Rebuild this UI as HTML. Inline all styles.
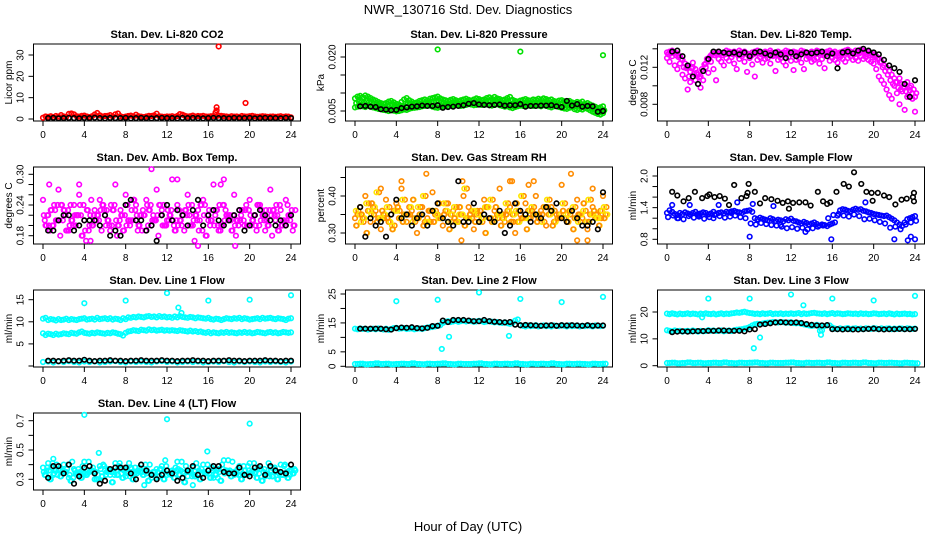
<!DOCTYPE html>
<html><head><meta charset="utf-8"><style>
html,body{margin:0;padding:0;background:#fff}
svg{display:block}
text{font-family:"Liberation Sans",Arial,sans-serif}
</style></head><body>
<svg id="chart" width="936" height="540" viewBox="0 0 936 540" xmlns="http://www.w3.org/2000/svg">
<text x="468" y="14" font-size="13" text-anchor="middle">NWR_130716  Std. Dev. Diagnostics</text>
<text x="468" y="531" font-size="13" text-anchor="middle">Hour of Day (UTC)</text>
</svg>
<script>
// x ticks
const hourTicks = [0,4,8,12,16,20,24];

// Panel 1: CO2
const co2Red = [0.6,1.2,1.0,1.3,0.9,1.4,1.1,1.8,1.2,1.0,2.4,2.6,2.2,1.3,1.1,1.5,1.6,1.2,0.9,1.3,2.1,2.8,1.7,1.2,1.4,
1.5,1.8,1.2,2.2,2.6,1.3,0.9,1.1,1.4,1.6,1.2,2.0,1.3,1.1,0.9,1.2,1.5,1.4,1.7,2.5,1.3,1.1,1.0,1.2,
1.1,1.3,1.0,1.4,2.3,2.0,1.5,1.2,1.3,1.6,1.2,1.4,1.3,1.5,1.2,1.1,1.3,1.4,1.2,1.6,1.5,1.3,1.2,1.0,
1.3,1.1,1.2,1.0,1.4,1.2,1.1,1.3,1.5,1.2,1.0,1.1,1.3,1.2,1.0,1.1,1.2,1.0,1.1,1.3,1.0,1.2,1.1,0.8];
const co2OutHours = [16.7,16.8,16.8,17.0,19.6];
const co2OutVals = [3,4,5.5,34,7.5];
const co2Black = [0.4,0.5,0.3,0.4,0.5,0.4,0.3,0.5,0.4,0.6,0.4,0.3,0.5,0.4,0.4,0.5,0.3,0.4,0.5,0.4,0.3,0.4,0.5,0.4,0.4,0.3,0.5,0.4,0.5,0.4,0.3,0.4,0.5,0.4,0.4,0.3,0.5,0.4,0.4,0.5,0.3,0.4,0.5,0.4,0.4,0.3,0.5,0.4];

// Panel 2: pressure (x1e-3)
const presA = [8.5,9.0,9.2,8.8,9.3,9.0,8.6,8.2,7.9,7.5,7.2,7.0,7.2,7.6,7.8,7.4,7.0,6.8,7.5,8.2,8.6,8.0,7.6,7.2,7.4,
7.8,8.0,8.2,7.9,8.4,8.6,8.8,9.0,8.5,8.2,8.0,7.8,8.1,8.3,8.0,7.7,8.0,8.2,8.4,8.1,7.9,8.2,8.5,8.3,
8.0,8.2,8.6,8.8,8.4,8.9,8.5,8.3,8.0,8.2,8.6,8.9,8.1,7.8,7.6,7.9,8.1,8.3,8.0,7.9,8.2,8.1,8.4,8.2,
8.5,8.3,8.0,8.2,7.8,7.6,7.9,8.0,7.7,7.5,7.8,7.4,7.2,7.5,7.3,7.6,7.0,7.2,6.8,6.5,6.2,5.8,6.0,6.3];
const presB = [6.0,6.2,6.4,6.3,6.1,6.5,6.2,6.0,5.8,5.6,5.5,5.3,5.2,5.0,5.3,5.1,4.9,5.0,5.2,5.4,5.3,5.6,5.8,5.9,6.0,
6.1,6.3,6.4,6.6,6.5,6.2,6.0,5.9,6.1,6.3,6.4,6.2,6.5,6.6,6.8,6.7,6.4,6.5,6.7,6.9,6.8,6.6,6.7,6.8,
6.7,6.9,6.8,6.6,6.5,6.7,6.9,6.6,6.4,6.2,6.3,6.0,5.8,6.1,6.3,6.5,6.4,6.6,6.5,6.7,6.4,6.6,6.5,6.3,
6.6,6.4,6.2,6.0,6.3,6.5,6.1,5.9,5.7,5.6,5.9,6.0,5.5,5.3,5.6,5.4,5.8,5.6,5.2,4.8,4.5,4.2,4.0,4.4];
const presC = [7.2,7.6,7.8,7.4,7.7,7.5,7.3,7.0,6.8,6.6,6.4,6.2,6.4,6.6,6.8,6.5,6.2,6.0,6.5,7.0,7.2,6.9,6.7,6.5,6.8,
7.0,7.1,7.3,7.0,7.4,7.5,7.6,7.7,7.4,7.2,7.1,7.0,7.3,7.4,7.2,7.0,7.2,7.4,7.5,7.3,7.1,7.4,7.6,7.5,
7.3,7.5,7.7,7.8,7.5,7.9,7.6,7.4,7.2,7.3,7.6,7.8,7.2,7.0,6.8,7.0,7.2,7.4,7.2,7.1,7.3,7.2,7.5,7.3,
7.5,7.4,7.1,7.3,7.0,6.8,7.0,7.1,6.9,6.7,6.9,6.6,6.4,6.7,6.5,6.8,6.3,6.4,6.0,5.7,5.5,5.0,4.8,5.2];
const presBlack = [6.3,6.4,6.2,6.1,5.5,5.4,5.2,5.3,5.8,6.0,6.2,6.3,6.5,6.4,6.4,6.6,5.9,6.1,6.2,6.4,6.6,7.0,7.2,6.8,6.7,6.6,6.7,6.8,6.5,6.6,6.6,6.9,6.2,6.4,6.4,6.5,6.5,6.6,6.3,6.1,7.8,6.5,6.9,6.2,6.4,6.3,4.8,5.0];
const presOutHours = [8,16,24];
const presOutVals = [22.1,21.5,20.5];

// Panel 3: Li-820 temp (x1e-3)
const tempA = [13.6,13.7,13.8,13.6,13.5,13.2,12.8,12.4,12.0,11.5,12.5,11.8,11.2,11.0,11.6,12.0,12.8,13.3,13.5,13.6,13.7,13.5,13.6,13.8,13.7,
13.6,13.7,13.5,13.8,13.6,13.7,13.5,13.4,13.6,13.7,13.8,13.6,13.5,13.7,13.6,13.8,13.5,13.6,13.7,13.5,13.6,13.8,13.7,13.6,
13.7,13.6,13.5,13.8,13.7,13.6,13.5,13.7,13.6,13.8,13.7,13.5,13.6,13.7,13.8,13.6,13.7,13.5,13.6,13.7,13.8,13.9,13.7,13.6,
13.8,13.7,13.9,13.8,13.6,13.7,13.5,13.4,13.2,13.0,12.6,12.2,12.0,11.6,11.2,10.8,10.4,10.8,10.2,9.8,10.4,9.5,9.2,8.8];
const tempB = [13.0,12.6,13.2,12.2,11.8,12.4,11.2,10.8,9.6,10.4,12.0,10.6,10.2,9.8,10.6,12.4,11.4,12.6,11.8,10.6,12.9,12.6,12.2,13.0,12.7,
13.1,12.4,11.8,12.9,13.2,12.6,11.5,13.0,12.3,11.0,12.8,13.1,12.5,12.9,13.0,12.4,13.2,11.6,12.8,13.0,12.6,12.2,13.1,12.7,
11.7,12.8,13.0,12.5,11.8,12.9,13.1,12.6,12.8,13.0,12.4,12.9,11.9,13.2,12.7,13.0,12.8,12.5,13.1,12.9,12.6,13.0,13.2,12.8,
13.0,12.7,13.2,12.9,13.1,12.8,12.6,12.4,11.8,11.0,10.6,10.2,9.6,9.0,8.6,10.0,9.2,8.0,9.4,7.4,8.8,9.8,8.6,7.2];
const tempC = [13.4,13.5,13.6,13.3,13.1,12.9,12.0,11.9,11.0,11.9,11.3,11.4,10.9,11.8,12.3,12.9,13.1,13.4,13.3,13.4,13.5,13.3,13.4,13.6,13.5,
13.4,13.5,13.3,13.6,13.4,13.5,13.3,13.2,13.4,13.5,13.6,13.4,13.3,13.5,13.4,13.6,13.3,13.4,13.5,13.3,13.4,13.6,13.5,13.4,
13.5,13.4,13.3,13.6,13.5,13.4,13.3,13.5,13.4,13.6,13.5,13.3,13.4,13.5,13.6,13.4,13.5,13.3,13.4,13.5,13.6,13.7,13.5,13.4,
13.6,13.5,13.7,13.6,13.4,13.5,13.3,13.1,12.9,12.5,12.0,11.6,11.2,10.6,10.2,10.4,9.8,9.6,9.9,9.4,9.0,10.0,9.6,9.2];
const tempBlack = [13.7,13.8,13.2,12.2,11.0,10.2,11.6,12.9,13.7,13.7,13.6,13.5,13.6,13.4,13.6,13.2,13.6,13.7,13.5,13.3,13.6,13.4,13.0,13.6,13.2,13.4,13.6,13.5,13.6,13.7,13.2,13.5,11.9,13.6,13.7,13.5,13.8,14.0,13.8,13.6,13.4,12.8,12.2,11.9,11.5,10.2,8.8,10.6];

// Panel 4: ambient box temp (x1e-2)
const ambA = [25,22,20,27,23,19,24,26,21,20,23,25,22,19,28,23,26,21,24,22,25,20,27,23,21,29,24,22,26,20,23,25,21,28,19,24,22,26,23,20,25,22,24,19,27,21,23,25,22];
const ambB = [21,19,23,18,22,24,20,22,17,25,21,19,23,20,18,22,24,21,19,23,20,22,18,24,21,20,23,19,22,17,21,24,20,22,19,23,21,18,22,24,20,19,23,21,18,22,20,24,19];
const ambC = [20,23,21,24,19,21,22,18,23,20,22,24,21,23,20,19,21,25,20,22,23,21,24,20,22,19,21,23,20,22,24,18,21,23,20,22,19,21,23,20,21,24,22,20,23,19,21,22,20];
const ambD = [22,20,24,21,23,20,22,24,19,22,21,23,20,24,21,22,20,23,22,19,24,21,22,20,23,21,20,22,24,21,19,22,23,20,24,21,22,20,21,23,22,20,21,23,22,24,20,21,23];
const ambOutHours = [0.6,3.5,10.5,13,17.2,17.5,8.8,15,18.6,4.6];
const ambOutVals = [28,28,31,29,28,29,25,16,16,17];
const ambBlack = [19,19,21,22,22,19,20,21,21,21,20,22,18,19,18,24,25,21,21,19,20,17,22,24,21,23,22,20,23,25,20,22,23,21,20,21,22,23,19,20,22,23,22,21,20,21,20,22];

// Panel 5: gas stream RH (x1e-2)
const rhA = [34,37,40,33,36,31,39,35,38,42,33,36,30,37,34,41,35,32,38,36,33,40,37,31,35,39,34,36,42,33,37,30,35,38,34,40,36,32,37,35,43,33,36,39,34,31,37,35,40];
const rhB = [32,35,30,38,33,36,34,31,37,33,35,39,34,32,36,33,38,35,31,34,37,32,35,33,36,30,34,37,32,35,33,38,34,31,36,33,35,37,32,34,36,33,31,35,38,33,36,32,34];
const rhC = [36,33,38,35,41,34,37,32,36,39,35,33,37,40,33,36,34,38,33,37,35,42,34,36,33,37,39,34,35,38,33,36,40,34,37,35,33,39,36,34,38,35,37,33,36,39,35,34,37];
const rhD = [35,34,36,37,34,35,33,36,34,35,37,34,35,33,36,35,34,36,35,33,35,34,36,35,34,37,33,35,34,36,35,33,34,36,35,34,37,35,33,35,34,36,34,35,33,35,34,36,35];
const rhOutHours = [4.5,6.9,10.4,15,15.2,16.8,17.3,20.9,23,2.5,10.3,21.5,22.5];
const rhOutVals = [44,46,44,44,44,43,44,46,42,42,28,28,28];
const rhBlack = [37,29,34,32,33,29,35,39,34,35,32,34,35,32,36,38,34,33,32,44,33,33,38,33,35,34,33,36,30,32,38,36,35,33,35,34,37,36,38,34,33,36,34,32,32,33,31,41];

// Panel 6: sample flow (x1e-2)
const flowA = [130,135,132,128,126,130,128,131,129,127,130,132,128,129,131,130,127,129,132,128,130,131,129,132,131,
133,134,132,131,130,133,134,135,132,120,118,121,119,117,116,120,118,115,117,116,114,118,116,119,
115,114,112,110,113,111,108,110,112,109,106,108,107,105,108,110,112,125,135,137,136,134,133,136,
138,136,137,134,133,131,130,128,127,126,125,124,125,122,119,116,112,108,105,112,118,120,122,124];
const flowB = [122,125,120,118,124,121,123,119,122,126,124,121,123,125,122,120,110,108,111,109,107,106,104,101,103,100,102,99,101,104,106,120,126,128,125,123,127,124,118,119,116,113,110,102,104,99,108,112,115];
const flowOutHours = [0.5,1,2.2,4.5,5,6.8,8,8.3,9.5,10.3,15.9,22,23.3,23.6,24,19.2,13.4,11,6.2,3];
const flowOutVals = [145,120,145,120,145,150,85,147,117,143,80,80,78,85,80,150,94,107,130,125];
const flowBlackHours = [0.5,1,1.6,2.1,2.7,3.4,3.9,4.1,4.6,5.1,5.6,6,6.5,7.2,7.7,7.8,7.9,8.5,9,9.5,10.1,10.7,11.2,11.7,11.8,12.2,12.8,13.4,13.9,14.6,15.1,15.5,15.8,16.4,17.1,17.6,18.1,18.8,19.3,19.8,19.9,20.4,21,21.5,22.1,22.7,23.2,23.8,23.9,23.9];
const flowBlackVals = [170,163,152,158,170,158,162,165,160,162,157,145,183,158,162,168,185,170,148,158,156,153,149,152,138,149,150,150,144,170,152,147,150,170,185,180,207,185,170,168,153,168,163,160,146,155,157,160,152,168];

// Panel 7: Line 1 flow
const l1Top = [10.7,10.9,10.4,10.6,10.5,10.3,10.6,10.4,10.5,10.7,10.4,10.6,10.5,10.4,10.6,10.7,10.8,10.5,10.6,10.7,10.5,10.9,10.6,10.7,10.8,
10.6,10.8,10.5,10.7,10.6,10.4,10.8,10.6,11.0,10.9,11.1,11.0,11.2,11.1,11.0,11.2,11.3,11.1,11.2,11.0,11.3,11.1,11.2,11.0,
11.1,10.9,11.2,11.0,11.3,11.1,11.0,10.9,11.1,11.0,10.8,11.0,10.9,10.8,10.7,10.9,10.6,10.5,10.7,10.6,10.4,10.6,10.8,10.7,
10.6,10.8,10.7,10.9,10.6,10.8,10.7,10.5,10.6,10.7,10.8,10.6,10.9,10.7,10.8,10.9,10.7,10.6,10.8,10.7,10.6,10.4,10.7,10.8];
const l1Mid = [7.4,7.0,7.3,7.2,7.0,7.3,7.1,7.2,7.4,7.3,7.2,7.5,7.4,7.3,7.6,7.8,7.5,7.4,7.3,7.5,7.4,7.6,7.5,7.4,7.3,
7.5,7.4,7.6,7.5,7.3,7.2,6.9,7.5,7.8,7.9,8.1,8.0,7.9,8.2,8.1,8.0,8.3,8.1,8.2,8.0,8.1,8.2,8.0,8.1,
8.0,8.1,8.0,7.9,8.1,8.0,7.9,7.8,8.0,7.8,7.9,7.7,7.8,7.6,7.5,7.7,7.4,7.6,7.5,7.4,7.6,7.5,7.7,7.5,
7.6,7.5,7.4,7.6,7.5,7.7,7.5,7.6,7.4,7.5,7.7,7.6,7.5,7.4,7.6,7.7,7.5,7.6,7.4,7.5,7.7,7.6,7.5,7.6];
const l1Low = [0.9,1.0,0.8,1.0,0.9,1.1,0.9,0.8,1.0,0.9,1.0,0.8,0.9,1.0,1.1,0.9,0.8,1.0,0.9,1.0,0.9,0.8,1.0,1.1,0.9,1.0,0.8,0.9,1.0,0.9,1.0,0.8,0.9,1.0,0.9,1.1,0.9,0.8,1.0,0.9,1.0,0.9,0.8,1.0,0.9,1.0,0.9,0.8,1.0];
const l1Black = [1.2,1.2,1.1,1.2,1.3,1.2,1.2,1.4,1.2,1.1,1.2,1.2,1.3,1.2,1.2,1.1,1.2,1.2,1.3,1.2,1.2,1.2,1.3,1.2,1.2,1.1,1.2,1.2,1.3,1.2,1.2,1.1,1.2,1.2,1.2,1.3,1.2,1.2,1.1,1.2,1.2,1.2,1.3,1.2,1.2,1.1,1.2,1.2];
const l1OutHours = [4,8,12,13.1,13.4,16,20,24];
const l1OutVals = [14.2,14.8,16.5,13.2,12,14.8,15,16];

// Panel 8: Line 2 flow
const l2Band = [13.0,12.8,13.1,12.9,13.0,12.7,12.9,13.0,12.8,13.1,12.9,12.7,13.0,12.6,12.9,13.2,13.3,13.0,13.1,13.2,12.9,13.0,13.1,12.8,13.0,13.1,12.9,13.2,13.4,13.5,13.6,13.8,14.0,
14.2,15.0,15.4,15.6,15.3,15.5,15.7,15.4,15.6,15.8,15.5,15.7,15.6,15.4,15.5,15.7,15.6,15.3,15.5,15.6,15.4,15.2,15.3,15.1,15.0,15.2,14.9,14.7,15.0,15.8,16.2,14.2,
14.0,13.8,14.1,13.9,14.0,14.2,13.8,14.0,14.1,13.9,14.0,13.8,14.1,14.0,13.9,14.2,14.0,13.8,14.1,13.9,14.0,14.1,13.8,14.0,13.9,14.1,14.0,13.8,14.1,14.0,13.9,14.0];
const l2Low = [0.8,0.9,0.7,0.8,1.0,0.8,0.9,0.7,0.8,0.9,0.8,1.0,0.8,0.7,0.9,0.8,0.9,1.0,0.8,0.7,0.9,0.8,0.8,0.9,1.0,0.8,0.7,0.9,0.8,0.9,0.8,1.0,0.8,0.7,0.9,0.8,0.9,0.8,1.0,0.8,0.7,0.9,0.8,0.9,0.8,0.7,0.9,0.8,0.9];
const l2Black = [13,13,13,13,13,12.8,12.7,13.2,13.4,13.3,13.5,13.2,13.1,13.3,13.9,14.0,15.8,15.3,16,16,16,15.8,15.6,15.6,16,15.6,15.4,15.3,15.2,15.3,14.4,14.2,14.3,14.2,14.1,14,14.1,14.2,14.0,14.2,14.1,14.2,14.1,14,14.2,14.0,14.1,14.1];
const l2OutHours = [4,8,8.4,9.1,12,14.9,16,20,24];
const l2OutVals = [22.5,23,6,10.2,25.5,10.5,23.3,22.2,24];

// Panel 9: Line 3 flow
const l3Top = [19.4,19.2,19.5,19.3,19.1,19.4,19.2,19.3,19.5,19.2,19.4,19.3,19.1,19.4,19.2,19.5,19.3,19.2,19.4,19.1,19.3,19.5,19.2,19.4,19.3,
19.5,19.6,19.8,19.7,19.9,20.1,19.8,19.6,19.5,19.3,19.4,19.2,19.5,19.3,19.4,19.6,19.2,19.4,19.3,19.5,19.2,19.4,19.3,19.5,
19.3,19.4,19.6,19.2,19.5,19.3,19.4,19.6,19.7,19.5,19.4,19.3,19.5,19.2,19.4,19.6,19.3,19.5,19.4,19.2,19.3,19.5,19.4,19.3,
19.4,19.2,19.5,19.3,19.4,19.2,19.3,19.5,19.4,19.2,19.3,19.4,19.2,19.5,19.3,19.1,19.4,19.2,19.3,19.4,19.2,19.3,19.1,19.2];
const l3Mid = [13.2,13.0,12.8,13.1,12.9,13.0,12.7,12.9,13.0,12.8,13.1,12.9,12.7,13.0,12.8,12.9,13.2,13.0,13.1,12.9,13.0,13.1,12.8,13.0,13.1,12.9,13.2,13.4,13.5,13.6,13.8,14.0,14.4,
15.0,15.4,15.6,15.5,15.7,15.9,16.0,16.1,16.3,16.2,16.1,16.3,16.2,16.0,16.1,16.2,15.9,15.8,15.9,15.6,15.4,15.2,15.0,14.8,15.0,15.2,14.9,13.2,14.8,15.1,15.0,14.2,
13.8,13.6,13.9,13.7,13.8,14.0,13.6,13.8,13.9,13.7,13.8,13.6,13.9,13.8,13.7,14.0,13.8,13.6,13.9,13.7,13.8,13.9,13.6,13.8,13.7,13.9,13.8,13.6,13.9,13.8,13.7,13.8];
const l3Low = [1.0,1.1,0.9,1.0,1.2,1.0,1.1,0.9,1.0,1.1,1.0,1.2,1.0,0.9,1.1,1.0,1.1,1.2,1.0,0.9,1.1,1.0,1.0,1.1,1.2,1.0,0.9,1.1,1.0,1.1,1.0,1.2,1.0,0.9,1.1,1.0,1.1,1.0,1.2,1.0,0.9,1.1,1.0,1.1,1.0,0.9,1.1,1.0,0.9];
const l3Black = [12.5,12.7,12.8,12.7,12.8,12.9,12.9,13.0,13.0,13.1,13.1,13.0,13.0,13.0,12.8,13.5,13.6,15.3,15.5,15.8,16.1,16.2,16.1,16.0,16.1,15.9,15.5,15.2,15.0,15.0,15.1,13.6,13.6,13.5,13.6,13.5,13.5,13.6,13.7,13.8,13.6,13.5,13.6,13.6,13.7,13.6,13.6,13.7];
const l3OutHours = [4,8,8.4,9,12,13.2,14.8,14.9,16,20,24,3.4];
const l3OutVals = [25,25,6.5,10.5,26.5,22.5,13,11.5,25,24.3,26,18];

// Panel 10: Line 4 flow (x1e-2)
const l4A = [38,41,33,36,40,31,37,34,42,35,30,39,36,33,41,37,32,38,35,40,34,31,37,39,33,36,42,35,32,38,34,40,36,31,37,43,35,33,39,36,41,34,37,32,38,35,40,33,36];
const l4B = [33,30,36,32,35,29,34,31,33,36,30,32,35,28,33,31,34,30,36,33,29,35,32,30,34,31,33,28,35,32,30,34,31,33,29,36,32,34,30,33,35,31,29,34,32,30,33,31,34];
const l4C = [36,38,40,35,37,42,34,39,36,38,33,40,37,35,39,36,41,34,38,36,40,35,37,43,34,38,36,39,35,41,37,34,38,36,40,35,42,37,34,39,36,38,35,41,37,34,39,36,37];
const l4D = [35,36,34,37,35,33,36,35,34,36,35,37,33,35,36,34,35,37,34,35,36,33,35,34,36,35,37,34,35,33,36,35,34,37,35,34,36,35,33,36,34,35,37,34,36,35,33,35,36];
const l4OutHours = [4,5.4,12,15.9,20,9.8,14.5,1.0];
const l4OutVals = [74,48,71,49,68,26,26,44];
const l4Black = [31,39,39,34,40,27,32,38,39,34,27,29,37,38,38,38,34,30,40,36,33,30,33,36,34,29,31,36,39,33,31,36,39,39,35,34,34,38,33,32,38,39,33,39,36,35,34,40];

const svg = document.getElementById('chart');
const NS = 'http://www.w3.org/2000/svg';
const BOX_H = 77;
function mk(tag, attrs, parent){
  const e = document.createElementNS(NS, tag);
  for (const k in attrs) e.setAttribute(k, attrs[k]);
  (parent||svg).appendChild(e);
  return e;
}

const panels = [
 {key:'co2', title:'Stan. Dev. Li-820 CO2', ylab:'Licor ppm', col:0,row:0, a:[0,75], b:[30,11], ticks:[0,10,20,30], labels:['0','10','20','30']},
 {key:'pressure', title:'Stan. Dev. Li-820 Pressure', ylab:'kPa', col:1,row:0, a:[0.005,67], b:[0.020,13], ticks:[0.005,0.010,0.015,0.020], labels:['0.005','','','0.020']},
 {key:'li820-temp', title:'Stan. Dev. Li-820 Temp.', ylab:'degrees C', col:2,row:0, a:[0.012,23.3], b:[0.008,60.3], ticks:[0.008,0.010,0.012,0.014], labels:['0.008','','0.012','']},
 {key:'amb-temp', title:'Stan. Dev. Amb. Box Temp.', ylab:'degrees C', col:0,row:1, a:[0.30,7.3], b:[0.18,68.7], ticks:[0.18,0.20,0.22,0.24,0.26,0.28,0.30], labels:['0.18','','','0.24','','','0.30']},
 {key:'rh', title:'Stan. Dev. Gas Stream RH', ylab:'percent', col:1,row:1, a:[0.40,29], b:[0.30,66], ticks:[0.30,0.35,0.40,0.45], labels:['0.30','','0.40','']},
 {key:'sample-flow', title:'Stan. Dev. Sample Flow', ylab:'ml/min', col:2,row:1, a:[2.0,9], b:[0.8,72.3], ticks:[0.8,1.0,1.2,1.4,1.6,1.8,2.0], labels:['0.8','','','1.4','','','2.0']},
 {key:'line1', title:'Stan. Dev. Line 1 Flow', ylab:'ml/min', col:0,row:2, a:[15,9.7], b:[0,76], ticks:[0,5,10,15], labels:['','5','10','15']},
 {key:'line2', title:'Stan. Dev. Line 2 Flow', ylab:'ml/min', col:1,row:2, a:[25,4], b:[0,76.3], ticks:[0,5,10,15,20,25], labels:['0','5','','15','','25']},
 {key:'line3', title:'Stan. Dev. Line 3 Flow', ylab:'ml/min', col:2,row:2, a:[20,22], b:[0,75.7], ticks:[0,10,20], labels:['0','10','20']},
 {key:'line4', title:'Stan. Dev. Line 4 (LT) Flow', ylab:'ml/min', col:0,row:3, a:[0.7,7.7], b:[0.3,66.3], ticks:[0.3,0.4,0.5,0.6,0.7], labels:['0.3','','0.5','','0.7']}
];

const P = {};
panels.forEach(p => {
  const ox = p.col*312, top = 44 + p.row*123;
  const x0 = 43 + ox, x24 = 291 + ox;
  const boxL = x0 - 9.5, boxR = x24 + 9.5;
  p.top = top;
  p.xs = h => x0 + (x24 - x0) * h / 24;
  p.ys = v => top + p.a[1] + (v - p.a[0]) * (p.b[1] - p.a[1]) / (p.b[0] - p.a[0]);
  const g = mk('g', {});
  
  
  p.g = g;
  const t = mk('text', {x:(boxL+boxR)/2, y:top-6, 'font-size':11, 'font-weight':'bold', 'text-anchor':'middle'}, g);
  t.textContent = p.title;
  
  
  const xa = mk('g', {}, g);
  
  
  mk('line', {x1:p.xs(0), x2:p.xs(24), y1:top+BOX_H, y2:top+BOX_H, stroke:'#000','stroke-width':1}, xa);
  hourTicks.forEach(h => {
    mk('line', {x1:p.xs(h), x2:p.xs(h), y1:top+BOX_H, y2:top+BOX_H+5, stroke:'#000','stroke-width':1}, xa);
    const tl = mk('text', {x:p.xs(h), y:top+BOX_H+17, 'font-size':10, 'text-anchor':'middle'}, xa);
    tl.textContent = h;
  });
  const ya = mk('g', {}, g);
  
  
  mk('line', {x1:boxL, x2:boxL, y1:p.ys(p.ticks[0]), y2:p.ys(p.ticks[p.ticks.length-1]), stroke:'#000','stroke-width':1}, ya);
  p.ticks.forEach((v,i) => {
    const y = p.ys(v);
    mk('line', {x1:boxL-5, x2:boxL, y1:y, y2:y, stroke:'#000','stroke-width':1}, ya);
    if (p.labels[i]) {
      const tl = mk('text', {x:boxL-10, y:y, 'font-size':10, 'text-anchor':'middle', transform:`rotate(-90 ${boxL-10} ${y})`}, ya);
      tl.textContent = p.labels[i];
    }
  });
  const yt = mk('text', {x:ox+12, y:top+BOX_H/2, 'font-size':10, 'text-anchor':'middle', transform:`rotate(-90 ${ox+12} ${top+BOX_H/2})`}, g);
  yt.textContent = p.ylab;
  
  
  const bx = mk('rect', {x:boxL, y:top, width:boxR-boxL, height:BOX_H, fill:'none', stroke:'#000', 'stroke-width':1}, g);
  
  
  P[p.key] = p;
});

function series(key, name, start, step, vals, scale, color){
  const p = P[key];
  const g = mk('g', {fill:'none', stroke:color, 'stroke-width':1.6}, p.g);
  
  
  vals.forEach((v,i) => {
    const c = mk('circle', {cx:p.xs(start + i*step), cy:p.ys(v*scale), r:2.3}, g);
    
    
  });
}
function pairs(key, name, hours, vals, scale, color){
  const p = P[key];
  const g = mk('g', {fill:'none', stroke:color, 'stroke-width':1.6}, p.g);
  
  
  hours.forEach((h,i) => {
    const c = mk('circle', {cx:p.xs(h), cy:p.ys(vals[i]*scale), r:2.3}, g);
    
    
  });
}

const RED='#ff0000', GREEN='#00e000', MAG='#ff00ff', CYAN='#00ffff', BLUE='#0000ff', BLK='#000', ORG='#ff8c00', YEL='#ffe600';

series('co2','red-points',0,0.25,co2Red,1,RED);
pairs('co2','red-outliers',co2OutHours,co2OutVals,1,RED);
series('co2','black-points',0.5,0.5,co2Black,1,BLK);

series('pressure','green-upper',0,0.25,presA,0.001,GREEN);
series('pressure','green-middle',0.12,0.25,presC,0.001,GREEN);
series('pressure','green-lower',0,0.25,presB,0.001,GREEN);
pairs('pressure','green-outliers',presOutHours,presOutVals,0.001,GREEN);
series('pressure','black-points',0.5,0.5,presBlack,0.001,BLK);

series('li820-temp','magenta-lower',0,0.25,tempB,0.001,MAG);
series('li820-temp','magenta-middle',0.12,0.25,tempC,0.001,MAG);
series('li820-temp','magenta-upper',0,0.25,tempA,0.001,MAG);
series('li820-temp','black-points',0.5,0.5,tempBlack,0.001,BLK);

series('amb-temp','magenta-a',0,0.5,ambA,0.01,MAG);
series('amb-temp','magenta-b',0.17,0.5,ambB,0.01,MAG);
series('amb-temp','magenta-c',0.33,0.5,ambC,0.01,MAG);
series('amb-temp','magenta-d',0.08,0.5,ambD,0.01,MAG);
series('amb-temp','magenta-e',0.25,0.5,ambC,0.01,MAG);
series('amb-temp','magenta-f',0.42,0.5,ambD,0.01,MAG);
pairs('amb-temp','magenta-outliers',ambOutHours,ambOutVals,0.01,MAG);
series('amb-temp','black-points',0.5,0.5,ambBlack,0.01,BLK);

series('rh','orange-a',0,0.5,rhA,0.01,ORG);
series('rh','yellow-b',0.17,0.5,rhB,0.01,YEL);
series('rh','orange-c',0.33,0.5,rhC,0.01,ORG);
series('rh','yellow-a',0.08,0.5,rhC,0.01,YEL);
series('rh','orange-d',0.25,0.5,rhD,0.01,ORG);
series('rh','yellow-d',0.42,0.5,rhD,0.01,YEL);
series('rh','orange-b',0.12,0.5,rhB,0.01,ORG);
pairs('rh','orange-outliers',rhOutHours,rhOutVals,0.01,ORG);
series('rh','black-points',0.5,0.5,rhBlack,0.01,BLK);

series('sample-flow','blue-band',0,0.25,flowA,0.01,BLUE);
series('sample-flow','blue-scatter',0.1,0.5,flowB,0.01,BLUE);
pairs('sample-flow','blue-outliers',flowOutHours,flowOutVals,0.01,BLUE);
pairs('sample-flow','black-points',flowBlackHours,flowBlackVals,0.01,BLK);

series('line1','cyan-top',0,0.25,l1Top,1,CYAN);
series('line1','cyan-mid',0,0.25,l1Mid,1,CYAN);
series('line1','cyan-low',0,0.5,l1Low,1,CYAN);
pairs('line1','cyan-outliers',l1OutHours,l1OutVals,1,CYAN);
series('line1','black-points',0.5,0.5,l1Black,1,BLK);

series('line2','cyan-band',0,0.25,l2Band,1,CYAN);
series('line2','cyan-low',0,0.5,l2Low,1,CYAN);
series('line2','cyan-low-b',0.25,0.5,l2Low,1,CYAN);
pairs('line2','cyan-outliers',l2OutHours,l2OutVals,1,CYAN);
series('line2','black-points',0.5,0.5,l2Black,1,BLK);

series('line3','cyan-top',0,0.25,l3Top,1,CYAN);
series('line3','cyan-mid',0,0.25,l3Mid,1,CYAN);
series('line3','cyan-low',0,0.5,l3Low,1,CYAN);
series('line3','cyan-low-b',0.25,0.5,l3Low,1,CYAN);
pairs('line3','cyan-outliers',l3OutHours,l3OutVals,1,CYAN);
series('line3','black-points',0.5,0.5,l3Black,1,BLK);

series('line4','cyan-a',0,0.5,l4A,0.01,CYAN);
series('line4','cyan-b',0.17,0.5,l4B,0.01,CYAN);
series('line4','cyan-c',0.33,0.5,l4C,0.01,CYAN);
series('line4','cyan-d',0.08,0.5,l4D,0.01,CYAN);
series('line4','cyan-e',0.25,0.5,l4B,0.01,CYAN);
series('line4','cyan-f',0.42,0.5,l4A,0.01,CYAN);
pairs('line4','cyan-outliers',l4OutHours,l4OutVals,0.01,CYAN);
series('line4','black-points',0.5,0.5,l4Black,0.01,BLK);
</script>
</body></html>
